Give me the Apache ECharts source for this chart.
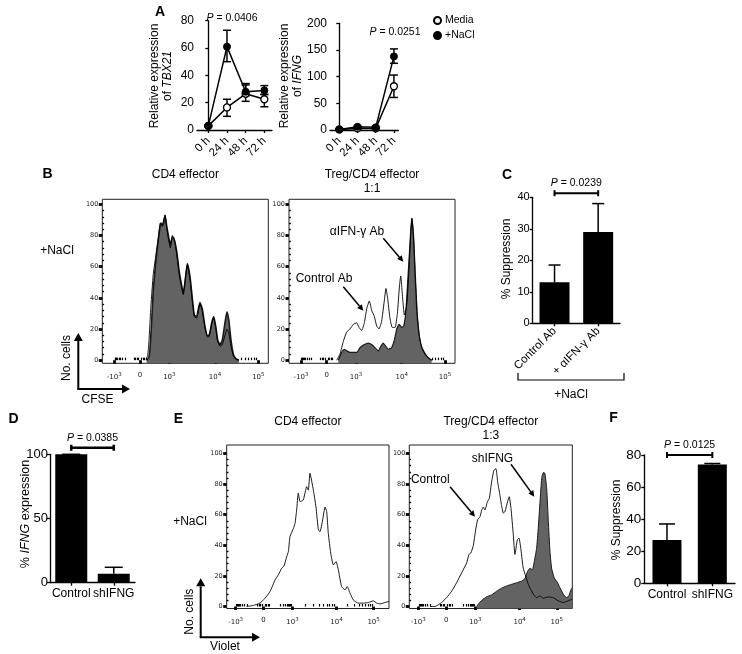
<!DOCTYPE html>
<html><head><meta charset="utf-8">
<script src="https://cdn.jsdelivr.net/npm/echarts@6/dist/echarts.min.js"></script>
<style>html,body{margin:0;padding:0;background:#fff}#c{width:742px;height:654px}</style>
</head><body><div id="c"></div>
<script>
// ---------- Panel A data ----------
const timeLabels = ['0 h', '24 h', '48 h', '72 h'];
const tbxMedia = [3, 16.5, 26.5, 22.5];
const tbxMediaErr = [[2.5, 3.5], [10, 22.5], [21, 33], [17, 26]];
const tbxNaCl = [3, 61, 28, 29];
const tbxNaClErr = [[2.5, 3.5], [50, 73], [25, 34], [26, 32.5]];
const ifngMedia = [1, 3, 3, 82];
const ifngMediaErr = [[0, 2], [2, 4], [2, 4], [61, 103]];
const ifngNaCl = [1, 6, 5, 138];
const ifngNaClErr = [[0, 2], [4, 8], [3, 7], [125, 152]];

// ---------- Flow histogram axis (display units 0-100) ----------
const histTickLabels = ['-10{s|3}', '0', '10{s|3}', '10{s|4}', '10{s|5}'];
const bTicks = [7.2, 22.7, 40.4, 67.9, 94.0];
const eTicks = [5.5, 22.6, 40.5, 67.7, 90.5];
const yHistTicks = [0, 20, 40, 60, 80, 100];

// Panel B histograms [position, count]
const bLeftFilled = [[26.7,0],[28.1,2],[28.9,10],[29.7,24],[30.7,45],[32.3,64],[33.7,77],[35.3,88],[36.1,86],[36.9,88],[37.8,93],[38.8,86],[39.8,80],[41.0,74],[42.2,79],[43.4,77],[44.8,70],[46.2,58],[47.8,48],[48.8,43],[49.8,50],[51.2,62],[52.8,54],[54.2,40],[55.4,29],[56.8,28],[58.8,37],[60.2,33],[61.8,22],[63.3,16],[64.3,16],[65.9,24],[67.1,28],[68.3,22],[69.5,13],[70.9,10],[72.3,13],[73.9,24],[75.1,31],[76.3,25],[77.5,13],[78.9,4],[80.3,1],[82.3,0]];
const bLeftOpen = [[26.3,0],[27.3,3],[28.1,12],[29.3,35],[30.7,55],[32.1,66],[33.7,78],[34.9,88],[36.1,87],[37.8,93],[38.8,85],[39.8,78],[41.0,72],[42.2,80],[43.4,78],[44.8,68],[46.2,56],[47.8,46],[48.8,42],[49.8,50],[51.2,61],[52.8,52],[54.2,38],[55.4,28],[56.8,27],[58.8,36],[60.2,32],[61.8,21],[63.3,15],[64.3,15],[65.9,23],[67.1,27],[68.3,21],[69.5,12],[70.9,9],[72.3,10],[73.9,16],[75.1,20],[76.3,17],[77.5,9],[78.9,3],[80.3,1],[82.3,0]];
const bRightFilled = [[29.7,0],[31.7,5],[33.3,7],[34.7,6],[36.7,5],[38.8,5],[40.8,5],[42.8,8],[45.4,10],[47.8,11],[49.8,10],[51.8,8],[53.8,6],[55.4,9],[56.8,11],[58.2,9],[59.8,7],[61.8,8],[63.5,13],[64.9,20],[66.3,23],[67.9,21],[69.1,22],[70.3,30],[71.5,50],[72.7,72],[73.9,91],[74.9,80],[75.9,55],[76.9,33],[77.9,20],[79.5,10],[81.5,5],[83.5,2],[85.9,0]];
const bRightOpen = [[28.7,0],[30.7,4],[32.7,12],[34.7,18],[36.7,20],[38.8,23],[40.8,24],[42.2,21],[43.8,19],[45.4,24],[46.8,33],[48.4,38],[49.8,32],[51.4,28],[52.8,22],[54.2,20],[55.8,25],[57.4,38],[58.4,46],[59.4,40],[60.8,27],[62.2,21],[63.9,21],[65.3,30],[66.5,47],[67.3,54],[68.3,42],[69.5,29],[70.9,35],[72.3,58],[73.5,84],[74.1,91],[75.1,80],[76.1,56],[77.3,30],[78.5,16],[79.9,8],[81.9,4],[84.3,1],[86.3,0]];

// Panel E histograms
const eLeftOpen = [[12.3,0],[16.4,0.7],[20.5,2.2],[23.6,5.4],[26.7,9.8],[29.8,17.4],[31.8,20.7],[33.9,25],[35.3,26.5],[37,32.6],[38,35.9],[39,45.7],[41.1,51],[42.1,54.3],[43.1,63],[44.1,74],[45.2,68.5],[47.2,69.6],[49.3,78.3],[50.3,76],[51.3,87],[53.4,76],[55,65],[56.5,50],[57.5,49],[59.1,56.5],[60.6,65],[61.6,62],[62.6,47.8],[64.1,34.8],[65.7,27.2],[67.4,29.3],[68.8,23.9],[70.8,13],[72.9,10.9],[74.3,13],[76,8.7],[78,4.3],[81.1,2.2],[84.2,2.2],[87.3,2.6],[90.3,3.7],[92.4,2.2],[94.5,1.7],[97.5,2.6],[100,3.3]];
const eRightOpen = [[12.7,0],[15.7,0],[19.8,2.6],[22.9,5.8],[26,10],[29,15.5],[32.1,22],[35.2,28.5],[36.6,34],[37.8,35],[39.3,40],[40.7,50],[41.9,56.6],[43.4,58.7],[44.4,63],[45.4,65],[46.4,63],[47.9,68.5],[49.1,70.6],[50.5,81.4],[51.9,89],[53.2,90],[54.2,81.4],[55.4,74],[56.6,66],[57.7,61],[58.7,62],[60.3,68.5],[61.3,71.7],[62.4,64],[63.8,47],[64.8,34],[66.3,43.6],[67.3,44.7],[68.5,37],[69.9,25],[71.4,20],[73,14.5],[74.6,11],[76.1,8],[78.1,5.8],[80.2,6.9],[82.2,5.4],[85.3,6.3],[88.3,5.8],[91.4,3.7],[94.5,2.6],[97.5,3.7],[100,4.8]];
const eRightFilled = [[41.3,0],[42.3,1.5],[44.4,4],[47.4,6.3],[50.5,7.6],[53.6,10],[56.6,12],[59.7,13.4],[62.8,14.5],[65.8,15.5],[68.9,16.6],[71,18.4],[72.6,23],[74,25],[75.5,24],[76.7,29.6],[78.1,38],[79.1,51],[80.2,68.5],[81.2,83.6],[82.2,87.5],[83.2,87],[84.3,77],[85.3,55.5],[86.3,36],[87.3,25],[88.9,18.8],[91,15.5],[92.4,12.3],[94.5,8],[96.5,5.8],[97.9,7],[99.2,11],[100,12.3]];

// ---------- Bar panels ----------
const cCats = ['Control Ab', '+ \u03b1IFN-\u03b3 Ab'];
const cVals = [13, 29];
const cErrHi = [18.5, 38];
const dCats = ['Control', 'shIFNG'];
const dVals = [100, 7];
const dErrHi = [100, 12];
const fCats = ['Control', 'shIFNG'];
const fVals = [27, 74];
const fErrHi = [37, 74.7];

const FONT = '"Liberation Sans", Arial, Helvetica, sans-serif';
const SMALL = '"DejaVu Sans", sans-serif';

// ---------- helpers ----------
function minorTicks(t) {
  const [pn, p0, p3, p4, p5] = t, out = [];
  for (let m = 2; m <= 9; m++) {
    const f = Math.log10(m);
    out.push(p3 + (p4 - p3) * f, p4 + (p5 - p4) * f);
    out.push(p0 + (p3 - p0) * (0.4 + 0.6 * f));
    out.push(p0 - (p0 - pn) * (0.4 + 0.6 * f));
  }
  for (let k = -4; k <= 4; k++) if (k) out.push(p0 + k * 0.9);
  return out.filter(v => v > 0 && v < 100);
}
function nearestIdx(arr, v) { let b = 0; arr.forEach((a, i) => { if (Math.abs(a - v) < Math.abs(arr[b] - v)) b = i; }); return b; }

function histX(grid, ticks) {
  return [
    { type: 'value', gridIndex: grid, min: 0, max: 100, axisLine: { show: false }, splitLine: { show: false },
      axisTick: { show: true, customValues: ticks, length: 3.5, lineStyle: { color: '#000', width: 2.8 } },
      axisLabel: { customValues: ticks, margin: 8, fontSize: 7, fontFamily: SMALL, color: '#222',
        formatter: v => histTickLabels[nearestIdx(ticks, v)],
        rich: { s: { fontSize: 5.5, fontFamily: SMALL, color: '#222', verticalAlign: 'top', padding: [0, 0, 6, 0] } } } },
    { type: 'value', gridIndex: grid, min: 0, max: 100, axisLine: { show: false }, splitLine: { show: false },
      axisTick: { show: true, customValues: minorTicks(ticks), length: 2.5, lineStyle: { color: '#000', width: 1.2 } },
      axisLabel: { show: false } }
  ];
}
function histY(grid, min, max) {
  const minor = [];
  for (let v = 4; v < 104; v += 4) if (v % 20) minor.push(v);
  return [
    { type: 'value', gridIndex: grid, min, max, axisLine: { show: false }, splitLine: { show: false },
      axisTick: { show: true, customValues: yHistTicks, length: 3.5, lineStyle: { color: '#000', width: 2.8 } },
      axisLabel: { customValues: yHistTicks, margin: 4, fontSize: 6.5, fontFamily: SMALL, color: '#222' } },
    { type: 'value', gridIndex: grid, min, max, axisLine: { show: false }, splitLine: { show: false },
      axisTick: { show: true, customValues: minor, length: 1.8, lineStyle: { color: '#000', width: 1.4 } },
      axisLabel: { show: false } }
  ];
}
function timeX(grid, min, max) {
  return { type: 'value', gridIndex: grid, min, max, splitLine: { show: false },
    axisLine: { show: true, onZero: false, lineStyle: { color: '#000', width: 1.3 } },
    axisTick: { show: true, customValues: [0, 1, 2, 3], length: 3, lineStyle: { color: '#000', width: 1.3 } },
    axisLabel: { customValues: [0, 1, 2, 3], rotate: 45, margin: 9, fontSize: 11.5, fontFamily: FONT, color: '#000',
      formatter: v => timeLabels[Math.round(v)] } };
}
function numY(grid, max, interval, fs, margin) {
  return { type: 'value', gridIndex: grid, min: 0, max, interval, splitLine: { show: false },
    axisLine: { show: true, lineStyle: { color: '#000', width: 1.3 } },
    axisTick: { show: true, length: 3, lineStyle: { color: '#000', width: 1.3 } },
    axisLabel: { margin: margin == null ? 3 : margin, fontSize: fs, fontFamily: FONT, color: '#000' } };
}
function catX(grid, cats, fs, rotate) {
  return { type: 'category', gridIndex: grid, data: cats,
    axisLine: { show: true, lineStyle: { color: '#000', width: 1.3 } },
    axisTick: { show: true, alignWithLabel: true, length: 3, lineStyle: { color: '#000', width: 1.3 } },
    axisLabel: { interval: 0, rotate: rotate || 0, margin: rotate ? 6 : 5, fontSize: fs, fontFamily: FONT, color: '#000' } };
}

function errRender(cap, both) {
  return function (params, api) {
    const x = api.value(0), lo = api.value(1), hi = api.value(2);
    const a = api.coord([x, lo]), b = api.coord([x, hi]);
    const st = { stroke: '#000', lineWidth: 1.5 };
    const ch = [
      { type: 'line', shape: { x1: a[0], y1: a[1], x2: b[0], y2: b[1] }, style: st },
      { type: 'line', shape: { x1: b[0] - cap, y1: b[1], x2: b[0] + cap, y2: b[1] }, style: st }
    ];
    if (both) ch.push({ type: 'line', shape: { x1: a[0] - cap, y1: a[1], x2: a[0] + cap, y2: a[1] }, style: st });
    return { type: 'group', children: ch };
  };
}
function bracketRender(label, lw) {
  return function (params, api) {
    const y = api.value(2);
    const a = api.coord([api.value(0), y]), b = api.coord([api.value(1), y]);
    const st = { stroke: '#000', lineWidth: lw };
    return { type: 'group', children: [
      { type: 'line', shape: { x1: a[0], y1: a[1], x2: b[0], y2: b[1] }, style: st },
      { type: 'line', shape: { x1: a[0], y1: a[1] - 3, x2: a[0], y2: a[1] + 3 }, style: st },
      { type: 'line', shape: { x1: b[0], y1: b[1] - 3, x2: b[0], y2: b[1] + 3 }, style: st },
      { type: 'text', style: { x: (a[0] + b[0]) / 2, y: a[1] - 10, text: '{i|P} = ' + label, align: 'center', verticalAlign: 'middle',
        fill: '#000', font: '10.5px ' + FONT, rich: { i: { fontStyle: 'italic', fontSize: 10.5, fontFamily: FONT, fill: '#000' } } } }
    ] };
  };
}

function timeSeries(name, vals, errs, gi, open) {
  return [
    { type: 'line', name, xAxisIndex: gi, yAxisIndex: gi, z: 3, data: vals.map((v, i) => [i, v]),
      symbol: 'circle', symbolSize: 7, lineStyle: { color: '#000', width: 1.5 },
      itemStyle: open ? { color: '#fff', borderColor: '#000', borderWidth: 1.3 } : { color: '#000', borderColor: '#000', borderWidth: 1 } },
    { type: 'custom', name: name + '-err', xAxisIndex: gi, yAxisIndex: gi, z: 1, renderItem: errRender(4, true),
      data: errs.map((e, i) => [i, e[0], e[1]]) }
  ];
}
function histSeries(name, data, xi, yi, filled, lw) {
  return { type: 'line', name, xAxisIndex: xi, yAxisIndex: yi, data, symbol: 'none', smooth: 0.15, z: filled ? 2 : 3,
    lineStyle: { color: filled ? '#1a1a1a' : '#000', width: lw },
    areaStyle: filled ? { color: '#636363', opacity: 1, origin: 'start' } : undefined };
}

function arrow(x1, y1, x2, y2, w, hl, hw) {
  const ang = Math.atan2(y2 - y1, x2 - x1);
  const bx = x2 - hl * Math.cos(ang), by = y2 - hl * Math.sin(ang);
  const px = -Math.sin(ang) * hw, py = Math.cos(ang) * hw;
  return [
    { type: 'line', shape: { x1, y1, x2: bx, y2: by }, style: { stroke: '#000', lineWidth: w }, silent: true },
    { type: 'polygon', shape: { points: [[x2, y2], [bx + px, by + py], [bx - px, by - py]] }, style: { fill: '#000' }, silent: true }
  ];
}
function txt(x, y, text, size, extra) {
  const e = Object.assign({ rot: 0, bold: false, rich: null }, extra || {});
  const st = { text, x: 0, y: 0, fill: '#000', font: (e.bold ? 'bold ' : '') + size + 'px ' + FONT, align: 'center', verticalAlign: 'middle' };
  if (e.rich) st.rich = e.rich;
  return { type: 'text', x, y, rotation: e.rot, style: st, silent: true };
}
const italic = s => ({ i: { fontStyle: 'italic', fontSize: s, fontFamily: FONT, fill: '#000' } });

const boxGrid = { show: true, borderColor: '#222', borderWidth: 1, backgroundColor: 'transparent', containLabel: false, outerBoundsMode: 'none' };
const plainGrid = { containLabel: false, outerBoundsMode: 'none' };

const option = {
  animation: false,
  backgroundColor: '#fff',
  grid: [
    Object.assign({ left: 197, top: 20.7, width: 75, height: 109.3 }, plainGrid),      // 0 A left
    Object.assign({ left: 330, top: 23.3, width: 68.3, height: 106.7 }, plainGrid),    // 1 A right
    Object.assign({ left: 102.3, top: 199.3, width: 166, height: 164 }, boxGrid),      // 2 B left
    Object.assign({ left: 289, top: 199.3, width: 166, height: 164 }, boxGrid),        // 3 B right
    Object.assign({ left: 532.7, top: 197.3, width: 87.3, height: 126 }, plainGrid),   // 4 C
    Object.assign({ left: 50, top: 454.3, width: 85, height: 128.4 }, plainGrid),      // 5 D
    Object.assign({ left: 226.7, top: 445, width: 162.3, height: 163.5 }, boxGrid),    // 6 E left
    Object.assign({ left: 409.3, top: 445, width: 163, height: 163.5 }, boxGrid),      // 7 E right
    Object.assign({ left: 644.3, top: 455, width: 90.7, height: 128.3 }, plainGrid)    // 8 F
  ],
  xAxis: [
    timeX(0, -0.605, 3.41), timeX(1, -0.51, 3.24),
    ...histX(2, bTicks), ...histX(3, bTicks),
    catX(4, cCats, 11.5, 45), catX(5, dCats, 12),
    ...histX(6, eTicks), ...histX(7, eTicks),
    catX(8, fCats, 12)
  ],
  yAxis: [
    numY(0, 80, 20, 12), numY(1, 200, 50, 12),
    ...histY(2, -2, 103.2), ...histY(3, -2, 103.2),
    numY(4, 40, 10, 11), numY(5, 100, 50, 13, 2),
    ...histY(6, -1.3, 105.5), ...histY(7, -1.3, 105.5),
    numY(8, 80, 20, 13.5)
  ],
  legend: {
    data: [{ name: 'Media', icon: 'circle' }, { name: '+NaCl', icon: 'circle' }],
    orient: 'vertical', left: 433, top: 15, itemWidth: 7, itemHeight: 7, itemGap: 4, padding: 0,
    selectedMode: false, textStyle: { fontSize: 10.5, fontFamily: FONT, color: '#000', padding: [0, 0, 0, -1] }
  },
  series: [
    ...timeSeries('Media', tbxMedia, tbxMediaErr, 0, true),
    ...timeSeries('+NaCl', tbxNaCl, tbxNaClErr, 0, false),
    ...timeSeries('Media', ifngMedia, ifngMediaErr, 1, true),
    ...timeSeries('+NaCl', ifngNaCl, ifngNaClErr, 1, false),
    // B
    histSeries('bLeftFilled', bLeftFilled, 2, 2, true, 1.6),
    histSeries('bLeftOpen', bLeftOpen, 2, 2, false, 0.9),
    histSeries('bRightFilled', bRightFilled, 4, 4, true, 1.2),
    histSeries('bRightOpen', bRightOpen, 4, 4, false, 0.9),
    // C
    { type: 'bar', name: 'cBar', xAxisIndex: 6, yAxisIndex: 6, data: cVals, barWidth: 30, itemStyle: { color: '#000' }, z: 2 },
    { type: 'custom', name: 'cErr', xAxisIndex: 6, yAxisIndex: 6, renderItem: errRender(6, false), data: cVals.map((v, i) => [i, v, cErrHi[i]]), z: 1 },
    { type: 'custom', name: 'cSig', xAxisIndex: 6, yAxisIndex: 6, clip: false, renderItem: bracketRender('0.0239', 2), data: [[0, 1, 41.3]] },
    // D
    { type: 'bar', name: 'dBar', xAxisIndex: 7, yAxisIndex: 7, data: dVals, barWidth: 32, itemStyle: { color: '#000' }, z: 2 },
    { type: 'custom', name: 'dErr', xAxisIndex: 7, yAxisIndex: 7, renderItem: errRender(9, false), data: dVals.map((v, i) => [i, v, dErrHi[i]]), z: 1 },
    { type: 'custom', name: 'dSig', xAxisIndex: 7, yAxisIndex: 7, clip: false, renderItem: bracketRender('0.0385', 2.5), data: [[0, 1, 105.1]] },
    // E
    histSeries('eLeftOpen', eLeftOpen, 8, 8, false, 0.9),
    histSeries('eRightFilled', eRightFilled, 10, 10, true, 1),
    histSeries('eRightOpen', eRightOpen, 10, 10, false, 0.9),
    // F
    { type: 'bar', name: 'fBar', xAxisIndex: 12, yAxisIndex: 12, data: fVals, barWidth: 29, itemStyle: { color: '#000' }, z: 2 },
    { type: 'custom', name: 'fErr', xAxisIndex: 12, yAxisIndex: 12, renderItem: errRender(8, false), data: fVals.map((v, i) => [i, v, fErrHi[i]]), z: 1 },
    { type: 'custom', name: 'fSig', xAxisIndex: 12, yAxisIndex: 12, clip: false, renderItem: bracketRender('0.0125', 2), data: [[0, 1, 80]] }
  ],
  graphic: [
    // panel letters
    txt(160, 12, 'A', 14, { bold: true }), txt(47.5, 174, 'B', 14, { bold: true }), txt(507, 175, 'C', 14, { bold: true }),
    txt(13.5, 419, 'D', 14, { bold: true }), txt(178.5, 419, 'E', 14, { bold: true }), txt(613.5, 418, 'F', 14, { bold: true }),
    // A texts
    txt(232, 18.5, '{i|P} = 0.0406', 10.5, { rich: italic(10.5) }),
    txt(395, 32, '{i|P} = 0.0251', 10.5, { rich: italic(10.5) }),
    txt(155, 76, 'Relative expression', 12, { rot: Math.PI / 2 }),
    txt(167.5, 76, 'of {i|TBX21}', 12, { rot: Math.PI / 2, rich: italic(12) }),
    txt(285, 76, 'Relative expression', 12, { rot: Math.PI / 2 }),
    txt(297.5, 76, 'of {i|IFNG}', 12, { rot: Math.PI / 2, rich: italic(12) }),
    // B texts
    txt(185.3, 175, 'CD4 effector', 12), txt(372, 175, 'Treg/CD4 effector', 12), txt(372, 189, '1:1', 12),
    txt(57, 251, '+NaCl', 12),
    txt(357, 231.7, '\u03b1IFN-\u03b3 Ab', 12), ...arrow(383.3, 238.3, 403.3, 261.7, 1.5, 6, 3),
    txt(324, 278.3, 'Control Ab', 12), ...arrow(343.3, 286.7, 363.3, 310.7, 1.5, 6, 3),
    txt(67, 358, 'No. cells', 12, { rot: Math.PI / 2 }), txt(97.5, 399.5, 'CFSE', 12),
    ...arrow(78.3, 389, 78.3, 333, 2, 8, 4.5), ...arrow(77.3, 389, 130, 389, 2, 8, 4.5),
    // C texts
    txt(506.7, 259, '% Suppression', 12, { rot: Math.PI / 2 }),
    { type: 'polyline', shape: { points: [[518, 373], [518, 380], [624, 380], [624, 373]] }, style: { stroke: '#000', lineWidth: 1.2, fill: null }, silent: true },
    txt(571, 395, '+NaCl', 12),
    // D texts
    txt(25.5, 514, '% {i|IFNG} expression', 12.5, { rot: Math.PI / 2, rich: italic(12.5) }),
    // E texts
    txt(307.8, 422, 'CD4 effector', 12), txt(490.8, 422, 'Treg/CD4 effector', 12), txt(490.8, 436, '1:3', 12),
    txt(190, 522, '+NaCl', 12),
    txt(492.5, 459, 'shIFNG', 12), ...arrow(511, 464.3, 534.3, 496.7, 1.5, 6, 3),
    txt(430.3, 479.3, 'Control', 12), ...arrow(450, 486.7, 475, 516.7, 1.5, 6, 3),
    txt(189.3, 611.7, 'No. cells', 12, { rot: Math.PI / 2 }), txt(225, 647, 'Violet', 12),
    ...arrow(200.7, 637.3, 200.7, 578.3, 2, 8, 4.5), ...arrow(199.7, 637.3, 260, 637.3, 2, 8, 4.5),
    // F texts
    txt(616.7, 520, '% Suppression', 12, { rot: Math.PI / 2 })
  ]
};

const chart = echarts.init(document.getElementById('c'), null, { renderer: 'canvas', width: 742, height: 654 });
chart.setOption(option);
</script>
</body></html>
